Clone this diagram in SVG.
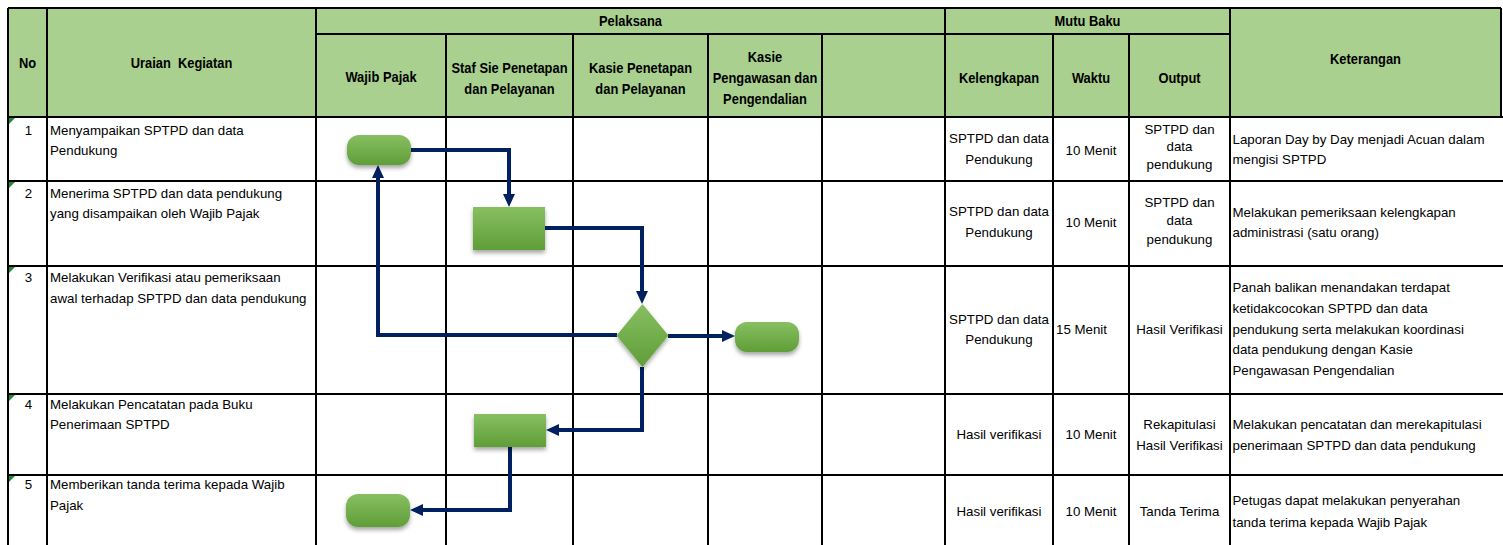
<svg xmlns="http://www.w3.org/2000/svg" width="1503" height="545" viewBox="0 0 1503 545">
<style>
.grid{stroke:#000;stroke-width:2;fill:none}
.hd{font-family:'Liberation Sans',Arial,sans-serif;font-weight:bold;font-size:12.9px;fill:#000;text-anchor:middle}
.tx{font-family:'Liberation Sans',Arial,sans-serif;font-size:13.3px;fill:#000}
.c{text-anchor:middle}
.shape{fill:url(#gr);filter:url(#sh)}
.conn{fill:none;stroke:#002060;stroke-width:4;stroke-linejoin:miter}
.tri{fill:#1f8a3a}
</style>
<defs>
<linearGradient id="gr" x1="0" y1="0" x2="0" y2="1">
<stop offset="0" stop-color="#88bf62"/>
<stop offset="1" stop-color="#5f9e37"/>
</linearGradient>
<filter id="sh" x="-20%" y="-20%" width="140%" height="160%">
<feDropShadow dx="0" dy="3" stdDeviation="2" flood-color="#000" flood-opacity="0.35"/>
</filter>
<marker id="ah" markerUnits="userSpaceOnUse" markerWidth="13" markerHeight="12" refX="0" refY="6" orient="auto">
<path d="M0,0 L13,6 L0,12 z" fill="#002060"/>
</marker>
</defs>
<rect x="0" y="0" width="1503" height="545" fill="#fff"/>
<g id="table">
<rect x="8" y="8" width="1493" height="109" fill="#a9d08e"/>
<path class="grid" d="M8,8 H1501 M316,34 H1230 M8,117 H1503 M8,181 H1503 M8,266 H1503 M8,394 H1503 M8,475 H1503 M8,8 V545 M47,8 V545 M316,8 V545 M446,34 V545 M573,34 V545 M708,34 V545 M822,34 V545 M945,8 V545 M1053,34 V545 M1129,34 V545 M1230,8 V545 M1501,8 V117"/>
<polygon class="tri" points="9,118 15,118 9,124"/>
<polygon class="tri" points="9,182 15,182 9,188"/>
<polygon class="tri" points="9,267 15,267 9,273"/>
<polygon class="tri" points="9,395 15,395 9,401"/>
<polygon class="tri" points="9,476 15,476 9,482"/>
</g>
<g id="header">
<text class="hd" transform="translate(27.5,68.3) scale(1,1.2)">No</text>
<text class="hd" xml:space="preserve" transform="translate(181.5,68.3) scale(1,1.2)">Uraian  Kegiatan</text>
<text class="hd" transform="translate(630.5,26) scale(1,1.2)">Pelaksana</text>
<text class="hd" transform="translate(1087.5,26) scale(1,1.2)">Mutu Baku</text>
<text class="hd" transform="translate(1365.5,64.3) scale(1,1.2)">Keterangan</text>
<text class="hd" transform="translate(381,82.3) scale(1,1.2)">Wajib Pajak</text>
<text class="hd" transform="translate(509.5,73.3) scale(1,1.2)">Staf Sie Penetapan</text>
<text class="hd" transform="translate(509.5,94) scale(1,1.2)">dan Pelayanan</text>
<text class="hd" transform="translate(640.5,72.7) scale(1,1.2)">Kasie Penetapan</text>
<text class="hd" transform="translate(640.5,94) scale(1,1.2)">dan Pelayanan</text>
<text class="hd" transform="translate(765,61.7) scale(1,1.2)">Kasie</text>
<text class="hd" transform="translate(765,83.3) scale(1,1.2)">Pengawasan dan</text>
<text class="hd" transform="translate(765,104.3) scale(1,1.2)">Pengendalian</text>
<text class="hd" transform="translate(999,82.7) scale(1,1.2)">Kelengkapan</text>
<text class="hd" transform="translate(1091,82.7) scale(1,1.2)">Waktu</text>
<text class="hd" transform="translate(1179.5,82.7) scale(1,1.2)">Output</text>
</g>
<g id="rows">
<text class="tx c" x="28.5" y="134.5">1</text>
<text class="tx" x="50" y="134.5">Menyampaikan SPTPD dan data</text>
<text class="tx" x="50" y="154.5">Pendukung</text>
<text class="tx c" x="28.5" y="198">2</text>
<text class="tx" x="50" y="198">Menerima SPTPD dan data pendukung</text>
<text class="tx" x="50" y="218">yang disampaikan oleh Wajib Pajak</text>
<text class="tx c" x="28.5" y="281.5">3</text>
<text class="tx" x="50" y="281.5">Melakukan Verifikasi atau pemeriksaan</text>
<text class="tx" x="50" y="302.5">awal terhadap SPTPD dan data pendukung</text>
<text class="tx c" x="28.5" y="408.6">4</text>
<text class="tx" x="50" y="408.6">Melakukan Pencatatan pada Buku</text>
<text class="tx" x="50" y="429.3">Penerimaan SPTPD</text>
<text class="tx c" x="28.5" y="489.3">5</text>
<text class="tx" x="50" y="489.3">Memberikan tanda terima kepada Wajib</text>
<text class="tx" x="50" y="510">Pajak</text>

<text class="tx c" x="999" y="142.6">SPTPD dan data</text>
<text class="tx c" x="999" y="163.6">Pendukung</text>
<text class="tx c" x="1091" y="155">10 Menit</text>
<text class="tx c" x="1179.5" y="134.3">SPTPD dan</text>
<text class="tx c" x="1179.5" y="151">data</text>
<text class="tx c" x="1179.5" y="168.5">pendukung</text>
<text class="tx" x="1232.5" y="143.6">Laporan Day by Day menjadi Acuan dalam</text>
<text class="tx" x="1232.5" y="163.6">mengisi SPTPD</text>

<text class="tx c" x="999" y="216">SPTPD dan data</text>
<text class="tx c" x="999" y="237">Pendukung</text>
<text class="tx c" x="1091" y="227">10 Menit</text>
<text class="tx c" x="1179.5" y="207">SPTPD dan</text>
<text class="tx c" x="1179.5" y="225.3">data</text>
<text class="tx c" x="1179.5" y="244.3">pendukung</text>
<text class="tx" x="1232.5" y="217">Melakukan pemeriksaan kelengkapan</text>
<text class="tx" x="1232.5" y="237">administrasi (satu orang)</text>

<text class="tx c" x="999" y="323.6">SPTPD dan data</text>
<text class="tx c" x="999" y="344.3">Pendukung</text>
<text class="tx" x="1056" y="334.3">15 Menit</text>
<text class="tx c" x="1179.5" y="334.3">Hasil Verifikasi</text>
<text class="tx" x="1232.5" y="292">Panah balikan menandakan terdapat</text>
<text class="tx" x="1232.5" y="312.7">ketidakcocokan SPTPD dan data</text>
<text class="tx" x="1232.5" y="333.5">pendukung serta melakukan koordinasi</text>
<text class="tx" x="1232.5" y="354.3">data pendukung dengan Kasie</text>
<text class="tx" x="1232.5" y="375.1">Pengawasan Pengendalian</text>

<text class="tx c" x="999" y="438.6">Hasil verifikasi</text>
<text class="tx c" x="1091" y="438.6">10 Menit</text>
<text class="tx c" x="1179.5" y="428.6">Rekapitulasi</text>
<text class="tx c" x="1179.5" y="449.6">Hasil Verifikasi</text>
<text class="tx" x="1232.5" y="428.6">Melakukan pencatatan dan merekapitulasi</text>
<text class="tx" x="1232.5" y="449.6">penerimaan SPTPD dan data pendukung</text>

<text class="tx c" x="999" y="516">Hasil verifikasi</text>
<text class="tx c" x="1091" y="516">10 Menit</text>
<text class="tx c" x="1179.5" y="516">Tanda Terima</text>
<text class="tx" x="1232.5" y="505.3">Petugas dapat melakukan penyerahan</text>
<text class="tx" x="1232.5" y="526.6">tanda terima kepada Wajib Pajak</text>
</g>
<g id="connectors">
<path class="conn" marker-end="url(#ah)" d="M411,150 H509 V194"/>
<path class="conn" marker-end="url(#ah)" d="M545,228 H642 V291"/>
<path class="conn" marker-end="url(#ah)" d="M617,335 H378 V178"/>
<path class="conn" marker-end="url(#ah)" d="M668,336 H722"/>
<path class="conn" marker-end="url(#ah)" d="M642,367 V430 H559"/>
<path class="conn" marker-end="url(#ah)" d="M510,447 V510 H423"/>
</g>
<g id="n1-start"><rect class="shape" x="347" y="135" width="64" height="30" rx="12"/></g>
<g id="n2-terima"><rect class="shape" x="473" y="207" width="72" height="43"/></g>
<g id="n3-verifikasi"><polygon class="shape" points="642.5,304 668.5,335.5 642.5,367 616.5,335.5"/></g>
<g id="n3-end"><rect class="shape" x="735" y="322" width="64" height="30" rx="12"/></g>
<g id="n4-catat"><rect class="shape" x="474" y="414" width="72" height="33"/></g>
<g id="n5-tanda"><rect class="shape" x="346" y="494" width="64" height="33" rx="12"/></g>
</svg>
